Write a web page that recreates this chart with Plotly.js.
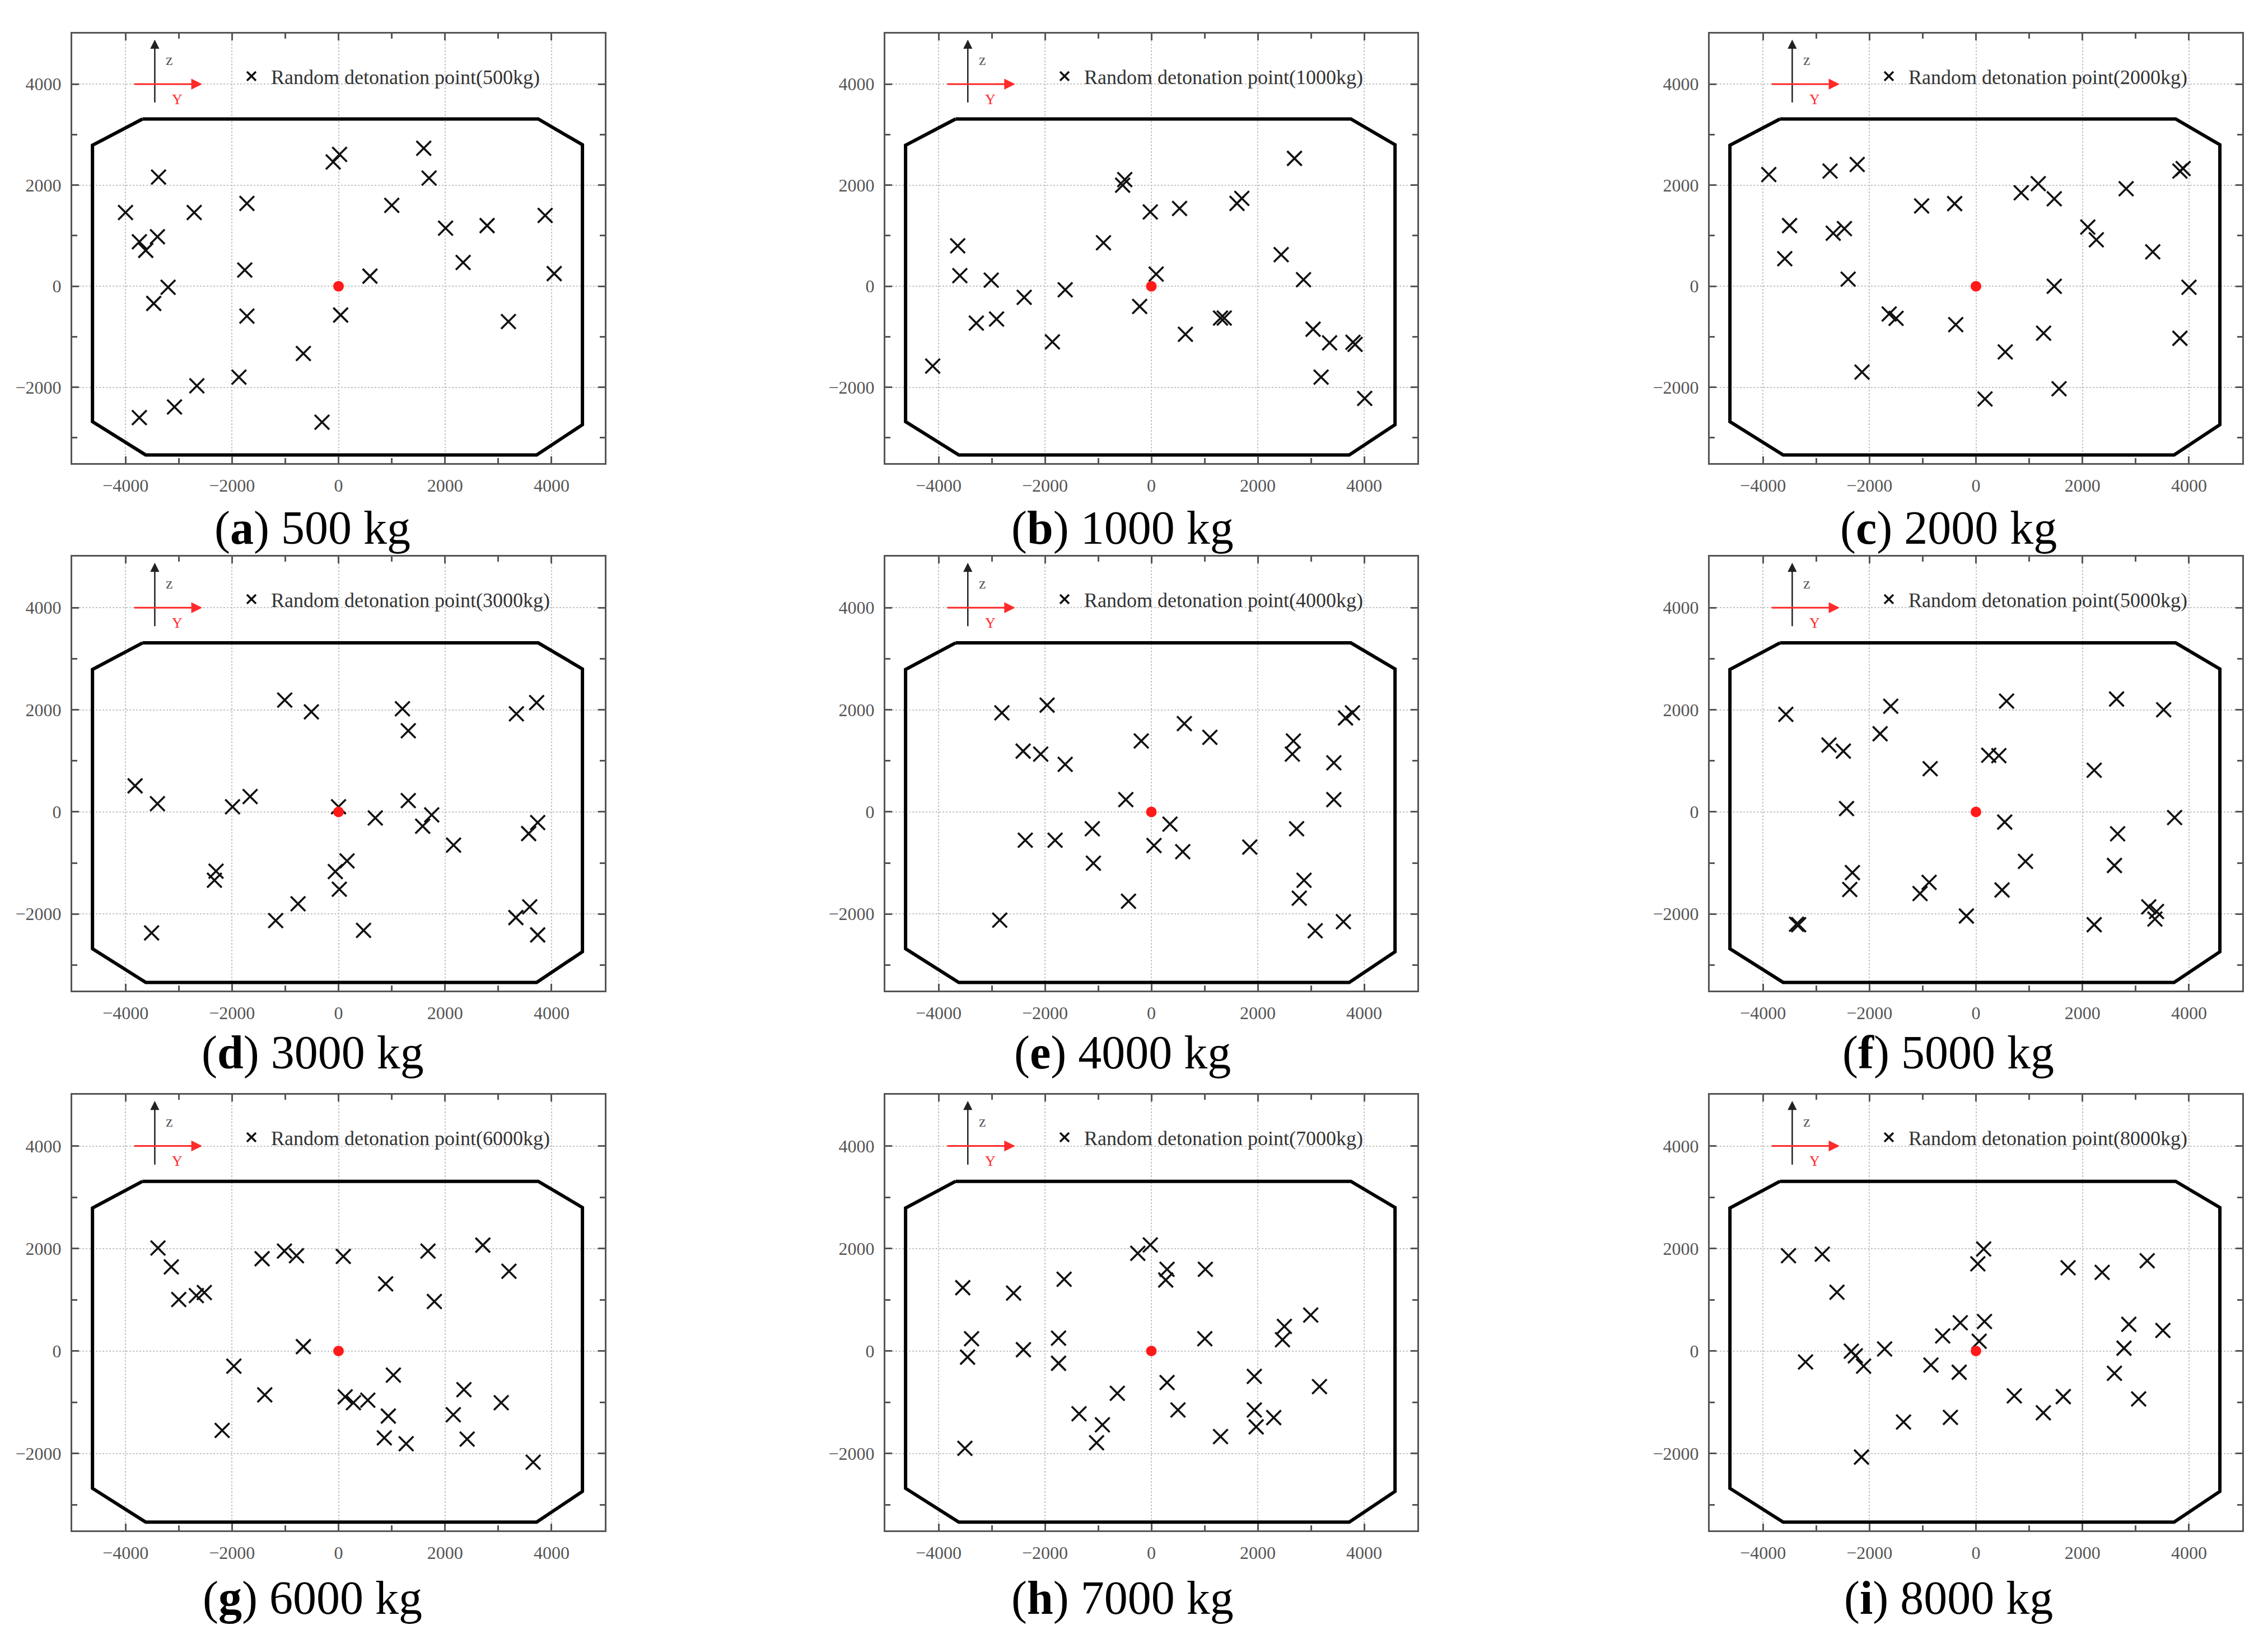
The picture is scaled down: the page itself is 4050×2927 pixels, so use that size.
<!DOCTYPE html>
<html>
<head>
<meta charset="utf-8">
<script src="https://cdn.plot.ly/plotly-3.0.1.min.js"></script>
<style>html,body{margin:0;padding:0;background:#fff;}#chart{width:4050px;height:2927px;}</style>
</head>
<body>
<div id="chart"></div>
<script>
// ---------- DATA ----------
const masses = ['500', '1000', '2000', '3000', '4000', '5000', '6000', '7000', '8000'];
const letters = ['a', 'b', 'c', 'd', 'e', 'f', 'g', 'h', 'i'];

// building outline (Y, Z)
const outlineY = [-3680, 3750, 4580, 4580, 3720, -3620, -4620, -4620, -3680];
const outlineZ = [3310, 3310, 2800, -2740, -3340, -3340, -2680, 2790, 3310];

// reference (origin) point
const originY = [0];
const originZ = [0];

const y500 = [-4000, -3740, -3620, -3400, -3380, -2710, -1720, -1760, -3200, -3470, -1720, -660, -1870, -2660, -3080, -3740, -310, -100, 20, 40, 590, 1000, 1600, 1700, 2010, 2340, 2790, 3190, 3880, 4050];
const z500 = [1460, 880, 710, 980, 2160, 1460, 1640, 320, -20, -340, -590, -1330, -1800, -1970, -2390, -2600, -2690, 2460, 2610, -570, 200, 1600, 2730, 2140, 1150, 470, 1200, -700, 1400, 250];

const y1000 = [-4110, -3640, -3600, -3010, -3290, -2910, -2390, -1620, -1860, -900, -540, -500, -20, -220, 90, 530, 640, 1300, 1370, 1610, 1700, 2440, 2690, 2860, 3040, 3350, 3790, 3830, 3190, 4010];
const z1000 = [-1580, 800, 210, 120, -730, -650, -220, -70, -1100, 860, 2000, 2110, 1470, -400, 240, 1540, -950, -630, -630, 1640, 1740, 625, 2530, 130, -850, -1120, -1110, -1150, -1800, -2220];

const y2000 = [-3890, -3500, -3590, -2740, -2230, -2680, -2470, -2400, -1020, -400, -1630, -1500, -380, -2140, 170, 550, 850, 1170, 1470, 1470, 1270, 1560, 2100, 2260, 2820, 3320, 3830, 3890, 3830, 4000];
const z2000 = [2210, 1200, 545, 2280, 2410, 1050, 1140, 140, 1590, 1635, -550, -635, -760, -1700, -2230, -1300, 1850, 2030, 1730, 0, -930, -2030, 1170, 920, 1930, 680, 2280, 2330, -1030, -20];

const y3000 = [-3820, -3400, -3510, -2300, -2330, -1990, -1660, -1010, -510, -1180, -760, -60, 160, 15, 0, 470, 690, 1200, 1310, 1310, 1750, 1580, 2160, 3340, 3720, 3570, 3740, 3330, 3590, 3740];
const z3000 = [510, 160, -2370, -1160, -1340, 100, 300, 2190, 1960, -2130, -1800, -1170, -960, -1515, 100, -2320, -120, 2020, 1590, 220, -60, -280, -650, 1920, 2140, -425, -210, -2070, -1860, -2410];

const y4000 = [-2810, -1960, -2410, -2080, -1620, -190, 620, 1100, -480, 350, -1110, -2370, -1810, -1090, 50, 590, -430, -2850, 1850, 2670, 2650, 2730, 2870, 2780, 3080, 3610, 3430, 3430, 3650, 3780];
const z4000 = [1940, 2090, 1190, 1130, 930, 1390, 1730, 1460, 240, -240, -330, -555, -555, -1005, -660, -780, -1750, -2120, -690, 1390, 1130, -330, -1340, -1690, -2330, -2150, 960, 240, 1840, 1940];

const y5000 = [-3570, -2760, -2490, -1800, -1600, -860, -2430, -2320, -2370, -3330, -3370, -1050, -880, -180, 240, 430, 575, 540, 930, 490, 2220, 2640, 3525, 2660, 2600, 2220, 3245, 3390, 3360, 3730];
const z5000 = [1910, 1310, 1190, 1530, 2070, 845, 65, -1190, -1520, -2210, -2200, -1600, -1380, -2040, 1110, 1100, 2170, -200, -970, -1530, 815, 2210, 2000, -430, -1050, -2210, -1860, -1950, -2100, -110];

const y6000 = [-3390, -3140, -3000, -2670, -2520, -1435, -1015, -790, 90, -660, -1965, -1385, -2185, 125, 280, 550, 885, 1030, 935, 860, 1270, 1680, 1800, 2710, 3200, 2355, 2155, 2415, 3055, 3655];
const z6000 = [2010, 1640, 1005, 1080, 1140, 1800, 1950, 1860, 1845, 85, -295, -855, -1550, -895, -1010, -960, 1310, -470, -1270, -1695, -1810, 1950, 965, 2065, 1555, -755, -1245, -1720, -1010, -2170];

const y7000 = [-3545, -3380, -3455, -3505, -2590, -2405, -1640, -1745, -1745, -1360, -920, -1030, -640, -255, -20, 295, 270, 295, 500, 1015, 1005, 1300, 1935, 1935, 1970, 2300, 2465, 2500, 2995, 3160];
const z7000 = [1235, 240, -120, -1900, 1130, 25, 1400, 250, -240, -1225, -1440, -1790, -825, 1905, 2070, 1595, 1385, -615, -1150, 1595, 240, -1670, -495, -1150, -1480, -1300, 220, 480, 700, -695];

const y8000 = [-3520, -2885, -2610, -3200, -2340, -2265, -2110, -1715, -2150, -1360, -845, -625, -295, -315, -480, 35, 145, 160, 60, 720, 1265, 1640, 1730, 2370, 3215, 2870, 2780, 2600, 3055, 3510];
const z8000 = [1860, 1890, 1145, -215, -5, -95, -295, 40, -2070, -1385, -275, 295, 550, -415, -1295, 1700, 1990, 575, 190, -875, -1205, -890, 1625, 1535, 1760, 520, 55, -435, -935, 400];

const seriesY = [y500, y1000, y2000, y3000, y4000, y5000, y6000, y7000, y8000];
const seriesZ = [z500, z1000, z2000, z3000, z4000, z5000, z6000, z7000, z8000];

const xTickVals = [-4000, -2000, 0, 2000, 4000];
const yTickVals = [-2000, 0, 2000, 4000];

// ---------- LAYOUT GEOMETRY ----------
const W = 4050, H = 2927;
const colLeft = [129, 1581, 3053];
const colRight = [1080, 2531, 4004];
const rowTop = [60, 994, 1955];
const rowBottom = [827, 1769, 2733];
const capX = [558, 2004, 3479];
const capY = [943, 1880, 2854];

const serif = 'Liberation Serif, Times New Roman, serif';
const traces = [];
const layout = {
  width: W, height: H,
  margin: {l: 0, r: 0, t: 0, b: 0},
  paper_bgcolor: '#ffffff',
  plot_bgcolor: '#ffffff',
  showlegend: true,
  annotations: []
};

for (let i = 0; i < 9; i++) {
  const s = i === 0 ? '' : String(i + 1);
  const xa = 'x' + s, ya = 'y' + s;
  const col = i % 3, row = Math.floor(i / 3);
  const legName = i === 0 ? 'legend' : 'legend' + (i + 1);

  traces.push({
    x: outlineY, y: outlineZ, xaxis: xa, yaxis: ya,
    mode: 'lines', line: {color: '#000', width: 6},
    showlegend: false, hoverinfo: 'skip'
  });
  traces.push({
    x: seriesY[i], y: seriesZ[i], xaxis: xa, yaxis: ya,
    mode: 'markers', type: 'scatter',
    name: 'Random detonation point(' + masses[i] + 'kg)',
    legend: legName,
    marker: {symbol: 'x-thin', size: 26, color: '#111', line: {width: 3.6, color: '#111'}}
  });
  traces.push({
    x: originY, y: originZ, xaxis: xa, yaxis: ya,
    mode: 'markers', marker: {symbol: 'circle', size: 19, color: '#ff1a1a'},
    showlegend: false
  });

  const axCommon = {
    showline: true, linecolor: '#555', linewidth: 3, mirror: 'ticks',
    ticks: 'inside', ticklen: 12, tickwidth: 3, tickcolor: '#555',
    showgrid: true, gridcolor: '#c4c4c4', gridwidth: 2, griddash: 'dot',
    zeroline: false, ticklabelstandoff: 10,
    tickfont: {family: serif, size: 32, color: '#555'},
    minor: {dtick: 1000, tick0: 0, ticks: 'inside', ticklen: 9, tickwidth: 3, tickcolor: '#555', showgrid: false}
  };
  layout['xaxis' + s] = Object.assign({}, axCommon, {
    anchor: ya, range: [-5000, 5000], tickvals: xTickVals,
    domain: [colLeft[col] / W, colRight[col] / W]
  });
  layout['yaxis' + s] = Object.assign({}, axCommon, {
    anchor: xa, range: [-3500, 5000], tickvals: yTickVals,
    domain: [1 - rowBottom[row] / H, 1 - rowTop[row] / H]
  });

  layout[legName] = {
    x: (colLeft[col] + 285) / W, xanchor: 'left',
    y: 1 - (rowTop[row] + 76) / H, yanchor: 'middle',
    bgcolor: 'rgba(0,0,0,0)', borderwidth: 0,
    font: {family: serif, size: 36, color: '#333'},
    itemwidth: 60
  };

  // inset coordinate arrows
  layout.annotations.push({
    xref: xa, yref: ya, axref: xa, ayref: ya,
    x: -3450, y: 4880, ax: -3450, ay: 3620, text: '',
    showarrow: true, arrowhead: 2, arrowsize: 1.3, arrowwidth: 2.5, arrowcolor: '#222'
  });
  layout.annotations.push({
    xref: xa, yref: ya, axref: xa, ayref: ya,
    x: -2560, y: 4000, ax: -3850, ay: 4000, text: '',
    showarrow: true, arrowhead: 2, arrowsize: 1.3, arrowwidth: 3, arrowcolor: '#ff2a2a'
  });
  layout.annotations.push({
    xref: xa, yref: ya, x: -3180, y: 4480, text: 'z', showarrow: false,
    font: {family: serif, size: 28, color: '#555'}
  });
  layout.annotations.push({
    xref: xa, yref: ya, x: -3030, y: 3700, text: 'Y', showarrow: false,
    font: {family: serif, size: 26, color: '#ff2a2a'}
  });

  // caption
  layout.annotations.push({
    xref: 'paper', yref: 'paper', x: capX[col] / W, y: 1 - capY[row] / H,
    xanchor: 'center', yanchor: 'middle', showarrow: false,
    text: '(<b>' + letters[i] + '</b>) ' + masses[i] + ' kg',
    font: {family: serif, size: 84, color: '#000'}
  });
}

Plotly.newPlot('chart', traces, layout, {staticPlot: true, displayModeBar: false});
</script>
</body>
</html>
